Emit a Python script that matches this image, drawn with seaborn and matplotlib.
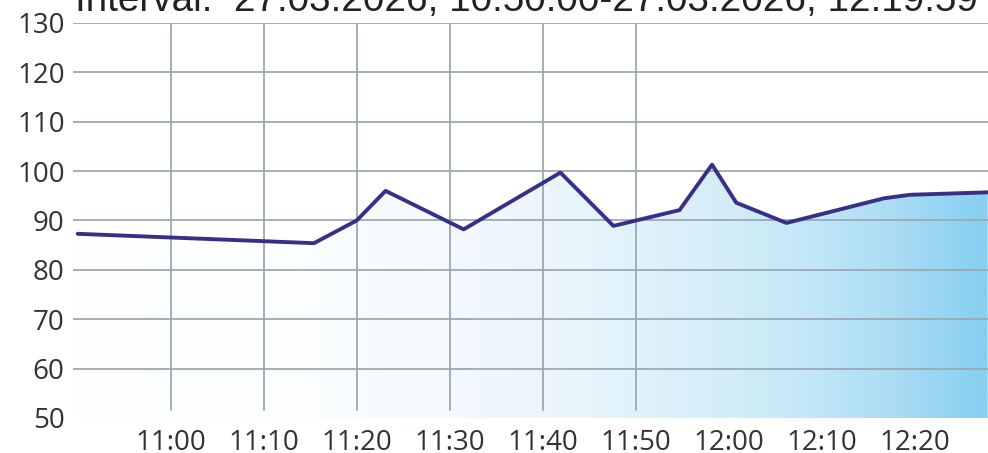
import numpy as np
import pandas as pd
import matplotlib
matplotlib.use("Agg")
import matplotlib.pyplot as plt
import matplotlib.dates as mdates
from matplotlib.colors import LinearSegmentedColormap
import seaborn as sns

day = "2026-03-27 "
times = ["10:50:00", "11:15:24", "11:20:00", "11:23:06", "11:31:30", "11:41:54",
         "11:47:36", "11:54:42", "11:58:12", "12:00:48", "12:06:12", "12:16:42",
         "12:19:30", "12:27:50"]
values = [87.3, 85.4, 90.0, 96.0, 88.2, 99.7, 88.9, 92.1, 101.3, 93.6, 89.5,
          94.5, 95.2, 95.7]
xticks = ["11:00", "11:10", "11:20", "11:30", "11:40", "11:50", "12:00", "12:10", "12:20"]
vgrid = ["11:00", "11:10", "11:20", "11:30", "11:40", "11:50"]
yticks = [50, 60, 70, 80, 90, 100, 110, 120, 130]
title = "Interval:  27.03.2026, 10:50:00-27.03.2026, 12:19:59"

df = pd.DataFrame({"time": pd.to_datetime([day + t for t in times]), "value": values})

sns.set_style("white")
plt.rcParams["font.family"] = ["Open Sans", "DejaVu Sans"]

fig = plt.figure(figsize=(9.88, 4.53), dpi=100)
ax = fig.add_axes([0.0739, 0.0773, 0.9261, 0.8720])

x0 = mdates.date2num(pd.Timestamp(day + "10:49:30"))
x1 = mdates.date2num(pd.Timestamp(day + "12:27:52"))
ax.set_xlim(x0, x1)
ax.set_ylim(50, 130)

# gradient fill under the line
cmap = LinearSegmentedColormap.from_list("sky", [
    (0.0, "#ffffff"), (0.25, "#fcfeff"), (0.45, "#f1f8fd"), (0.6, "#e3f3fb"),
    (0.72, "#d3edf9"), (0.82, "#c0e6f7"), (0.9, "#aadcf4"), (1.0, "#86cff0")])
xn = mdates.date2num(df["time"])
poly = ax.fill_between(xn, df["value"], 50, color="none", lw=0)
grad = ax.imshow(np.linspace(0, 1, 512)[None, :], cmap=cmap, aspect="auto",
                 extent=[x0, x1, 50, 130], origin="lower", zorder=1)
grad.set_clip_path(poly.get_paths()[0], transform=ax.transData)

# grid
for v in yticks[1:]:
    ax.axhline(v, color="#9aa9b6", lw=1.3, zorder=2)
for t in vgrid:
    ax.axvline(mdates.date2num(pd.Timestamp(day + t)), ymin=0.02, color="#9aa9b6",
               lw=1.3, zorder=2)

sns.lineplot(x=xn, y=df["value"], ax=ax, color="#383086", lw=2.8, zorder=3)

ax.set_xticks([mdates.date2num(pd.Timestamp(day + t)) for t in xticks])
ax.set_xticklabels(xticks)
ax.set_yticks(yticks)
ax.tick_params(axis="both", length=0, labelsize=20, colors="#333333")
ax.tick_params(axis="x", pad=8)
ax.tick_params(axis="y", pad=6)
for s in ax.spines.values():
    s.set_visible(False)
ax.set_xlabel("")
ax.set_ylabel("")

fig.text(0.076, 0.976, title, family=["Liberation Sans", "DejaVu Sans"],
         fontsize=27.8, color="#222222", va="baseline", ha="left")

fig.savefig("out.png", dpi=100)
